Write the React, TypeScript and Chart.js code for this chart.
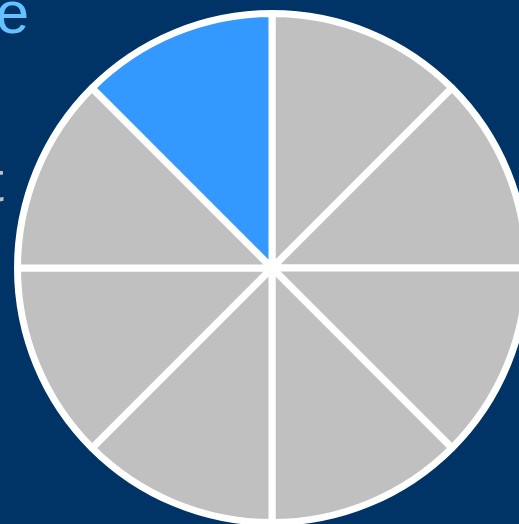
import { useEffect, useRef } from 'react'
import { Chart, ChartConfiguration, registerables } from 'chart.js'

Chart.register(...registerables)

// eight equal slices, the last one highlighted
const labels = ['A', 'B', 'C', 'D', 'E', 'F', 'G', 'H']
const values = [1, 1, 1, 1, 1, 1, 1, 1]
const sliceColors = ['#c0c0c0', '#c0c0c0', '#c0c0c0', '#c0c0c0', '#c0c0c0', '#c0c0c0', '#c0c0c0', '#3399ff']

const titleText = 'Share'
const sideText = 'Segment'

export default function App() {
    const canvasRef = useRef<HTMLCanvasElement>(null)
    const chartRef = useRef<Chart | null>(null)

    useEffect(() => {
        if (!canvasRef.current) return
        const ctx = canvasRef.current.getContext('2d')
        if (!ctx) return

        const config: ChartConfiguration = {
            type: 'pie',
            data: {
                labels: labels,
                datasets: [{
                    data: values,
                    backgroundColor: sliceColors,
                    borderColor: '#ffffff',
                    borderWidth: 7,
                    hoverOffset: 0,
                    offset: 0
                }]
            },
            options: {
                responsive: true,
                maintainAspectRatio: false,
                animation: false,
                events: [],
                layout: { padding: 0 },
                plugins: {
                    legend: { display: false },
                    tooltip: { enabled: false }
                }
            }
        }

        chartRef.current = new Chart(ctx, config)

        return () => {
            if (chartRef.current) {
                chartRef.current.destroy()
                chartRef.current = null
            }
        }
    }, [])

    return (
        <div style={{
            position: 'fixed', left: 0, top: 0, width: 519, height: 524,
            overflow: 'hidden', background: '#003366',
            fontFamily: '"Liberation Sans", Arial, sans-serif'
        }}>
            <div style={{
                position: 'absolute', right: 519 - 29, top: -17,
                fontSize: 60, lineHeight: '60px', color: '#66c2ff', whiteSpace: 'nowrap'
            }}>{titleText}</div>
            <div style={{
                position: 'absolute', right: 519 - 4, top: 152,
                fontSize: 58, lineHeight: '58px', color: '#c0c0c0', whiteSpace: 'nowrap'
            }}>{sideText}</div>
            <div style={{ position: 'absolute', left: 14, top: 10, width: 516, height: 516 }}>
                <canvas ref={canvasRef} aria-label="Pie chart" role="img"></canvas>
            </div>
        </div>
    )
}
